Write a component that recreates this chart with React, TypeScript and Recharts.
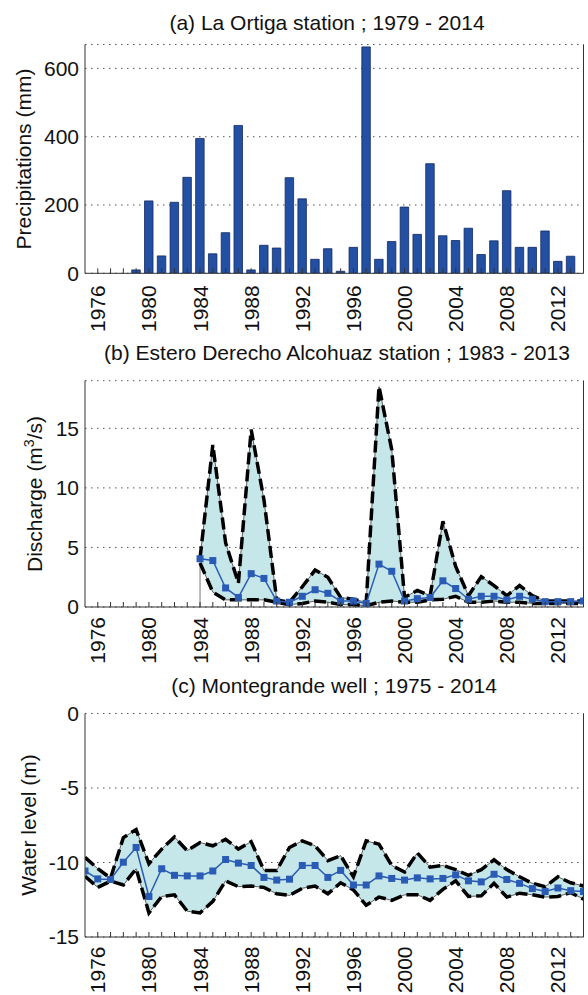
import React from 'react';
import {
  ComposedChart, Bar, Line, Area, XAxis, YAxis, CartesianGrid, ReferenceLine
} from 'recharts';

const FONT = '"Liberation Sans", Arial, Helvetica, sans-serif';

// year ticks shared by all three panels
const yearTicks = [
  1976, 1977, 1978, 1979, 1980, 1981, 1982, 1983, 1984, 1985, 1986, 1987, 1988,
  1989, 1990, 1991, 1992, 1993, 1994, 1995, 1996, 1997, 1998, 1999, 2000, 2001,
  2002, 2003, 2004, 2005, 2006, 2007, 2008, 2009, 2010, 2011, 2012, 2013,
];
const labelYears = [1976, 1980, 1984, 1988, 1992, 1996, 2000, 2004, 2008, 2012];

// (a) La Ortiga precipitation
const rainYears = [
  1979, 1980, 1981, 1982, 1983, 1984, 1985, 1986, 1987, 1988, 1989, 1990,
  1991, 1992, 1993, 1994, 1995, 1996, 1997, 1998, 1999, 2000, 2001, 2002,
  2003, 2004, 2005, 2006, 2007, 2008, 2009, 2010, 2011, 2012, 2013,
];
const rainValues = [
  10, 212, 51, 208, 281, 395, 57, 119, 433, 10, 82, 74,
  280, 218, 41, 72, 6, 76, 663, 41, 93, 194, 114, 321,
  110, 96, 132, 55, 95, 242, 76, 76, 124, 35, 50,
];

// (b) Estero Derecho Alcohuaz discharge
const flowYears = [
  1984, 1985, 1986, 1987, 1988, 1989, 1990, 1991, 1992, 1993, 1994, 1995,
  1996, 1997, 1998, 1999, 2000, 2001, 2002, 2003, 2004, 2005, 2006, 2007,
  2008, 2009, 2010, 2011, 2012, 2013, 2014,
];
const flowMean = [
  4.05, 3.9, 1.6, 0.8, 2.8, 2.4, 0.5, 0.4, 0.9, 1.45, 1.15, 0.5,
  0.5, 0.3, 3.6, 3.0, 0.5, 0.7, 0.8, 2.2, 1.55, 0.65, 0.9, 0.9,
  0.6, 0.9, 0.65, 0.45, 0.45, 0.45, 0.5,
];
const flowMax = [
  4.1, 13.6, 5.4, 2.0, 14.9, 9.0, 0.6, 0.4, 1.7, 3.1, 2.5, 0.8,
  0.65, 0.4, 18.5, 13.2, 0.8, 1.4, 0.95, 7.2, 3.4, 0.95, 2.55, 1.8,
  0.95, 1.8, 0.95, 0.5, 0.5, 0.5, 0.5,
];
const flowMin = [
  3.7, 1.25, 0.6, 0.6, 0.6, 0.6, 0.4, 0.2, 0.3, 0.5, 0.4, 0.2,
  0.2, 0.1, 0.4, 0.5, 0.4, 0.4, 0.6, 0.65, 0.9, 0.4, 0.4, 0.5,
  0.4, 0.4, 0.3, 0.3, 0.3, 0.3, 0.3,
];

// (c) Montegrande well water level
const wellYears = [
  1975, 1976, 1977, 1978, 1979, 1980, 1981, 1982, 1983, 1984,
  1985, 1986, 1987, 1988, 1989, 1990, 1991, 1992, 1993, 1994,
  1995, 1996, 1997, 1998, 1999, 2000, 2001, 2002, 2003, 2004,
  2005, 2006, 2007, 2008, 2009, 2010, 2011, 2012, 2013, 2014,
];
const wellMean = [
  -10.57, -11.1, -11.14, -9.98, -8.99, -12.28, -10.42, -10.86, -10.9, -10.9,
  -10.57, -9.8, -10.04, -10.2, -11.0, -11.18, -11.12, -10.2, -10.2, -11.0,
  -10.53, -11.51, -11.51, -10.9, -11.07, -11.18, -11.03, -11.1, -11.07, -10.83,
  -11.23, -11.3, -10.79, -11.14, -11.4, -11.75, -11.95, -11.71, -11.89, -11.95,
];
const wellMax = [
  -9.65, -10.42, -11.05, -8.33, -7.79, -10.09, -9.1, -8.29, -9.21, -8.66,
  -8.88, -8.44, -9.1, -8.6, -10.53, -10.53, -8.99, -8.55, -8.88, -9.87,
  -9.54, -10.96, -8.55, -8.77, -10.2, -10.64, -9.36, -10.31, -10.2, -10.48,
  -10.86, -10.48, -9.82, -10.48, -10.96, -11.4, -11.62, -10.96, -11.36, -11.58,
];
const wellMin = [
  -10.92, -11.67, -11.25, -11.51, -10.42, -13.38, -12.28, -12.17, -13.27, -13.38,
  -12.61, -11.23, -11.62, -11.58, -11.67, -12.1, -12.21, -11.73, -11.58, -12.1,
  -11.36, -11.84, -12.87, -12.32, -12.54, -12.17, -12.17, -12.54, -11.8, -11.23,
  -12.28, -12.24, -11.4, -12.32, -12.06, -12.17, -12.32, -12.28, -12.02, -12.46,
];

const rainData = rainYears.map((year, i) => ({ year, rain: rainValues[i] }));
const flowData = flowYears.map((year, i) => ({ year, mean: flowMean[i], hi: flowMax[i], lo: flowMin[i] }));
const wellData = wellYears.map((year, i) => ({ year, mean: wellMean[i], hi: wellMax[i], lo: wellMin[i] }));

const W = 588;
const FS = 21;
const X_DOMAIN: [number, number] = [1975, 2014];
const AXIS = '#333';
const BAND_FILL = '#c6e7ea';
const BLUE = '#2b5cb5';

const BottomTick = ({ x, y, payload, gap }: any) => (
  <g>
    <line x1={x} x2={x} y1={y} y2={y - 5} stroke={AXIS} strokeWidth={1} />
    {labelYears.includes(payload.value) && (
      <text
        x={x} y={y} dx={-gap} dy={7.5}
        transform={`rotate(-90 ${x} ${y})`}
        textAnchor="end" fontSize={FS} fontFamily={FONT} fill="#111"
      >
        {payload.value}
      </text>
    )}
  </g>
);

const TopTick = ({ x, y }: any) => (
  <line x1={x} x2={x} y1={y} y2={y + 5} stroke={AXIS} strokeWidth={1} />
);

const Square = ({ cx, cy }: any) =>
  cx == null || cy == null ? <g /> : <rect x={cx - 3.5} y={cy - 3.5} width={7} height={7} fill={BLUE} />;

const yTickStyle = { fontSize: FS, fontFamily: FONT, fill: '#111' };

// shared frame: axes on four sides, dotted horizontal grid
const frame = (yDomain: [number, number], yTicks: number[], gap: number) => [
  <CartesianGrid key="grid" vertical={false} horizontal stroke="#555" strokeDasharray="1.5 4.5" />,
  <XAxis
    key="xb" dataKey="year" type="number" domain={X_DOMAIN} ticks={yearTicks} interval={0}
    allowDataOverflow height={52} tickSize={0} tickMargin={0} tickLine={false}
    axisLine={{ stroke: AXIS }} tick={<BottomTick gap={gap} />}
  />,
  <XAxis
    key="xt" xAxisId="top" orientation="top" type="number" domain={X_DOMAIN} ticks={yearTicks}
    interval={0} allowDataOverflow height={0} tickSize={0} tickMargin={0} tickLine={false}
    axisLine={{ stroke: AXIS }} tick={<TopTick />}
  />,
  <YAxis
    key="yl" type="number" domain={yDomain} ticks={yTicks} interval={0} allowDataOverflow
    width={85} tickSize={0} tickMargin={6} tickLine={false}
    axisLine={{ stroke: AXIS }} tick={yTickStyle}
  />,
  <YAxis
    key="yr" yAxisId="right" orientation="right" type="number" domain={yDomain}
    allowDataOverflow width={1} tick={false} tickLine={false} axisLine={{ stroke: AXIS }}
  />,
];

export default function App() {
  return (
    <div style={{ position: 'absolute', left: 0, top: 0, width: W, height: 995, background: '#fff', fontFamily: FONT, overflow: 'hidden' }}>
      {/* (a) precipitation bars */}
      <div style={{ position: 'absolute', left: 0, top: 0 }}>
        <ComposedChart width={W} height={340} data={rainData} margin={{ top: 44.5, right: 3.5, bottom: 14.7, left: 0 }}>
          {frame([0, 670], [0, 200, 400, 600], 12)}
          <Bar dataKey="rain" fill="#2350a2" stroke="#132a63" strokeWidth={0.8} barSize={8.5} isAnimationActive={false} />
        </ComposedChart>
      </div>

      {/* (b) discharge band */}
      <div style={{ position: 'absolute', left: 0, top: 330 }}>
        <ComposedChart width={W} height={340} data={flowData} margin={{ top: 50.7, right: 3.5, bottom: 11, left: 0 }}>
          {frame([0, 19], [0, 5, 10, 15], 10)}
          <Area
            dataKey={(d: any) => [d.lo, d.hi]} type="linear" fill={BAND_FILL} fillOpacity={1}
            stroke="#222" strokeWidth={0.7} isAnimationActive={false} dot={false} activeDot={false}
          />
          <ReferenceLine
            segment={[{ x: flowYears[0], y: 0 }, { x: flowYears[0], y: flowMean[0] }]}
            stroke="#777" strokeWidth={1}
          />
          <Line dataKey="hi" type="linear" stroke="#000" strokeWidth={3.5} strokeDasharray="12 5" dot={false} isAnimationActive={false} />
          <Line dataKey="lo" type="linear" stroke="#000" strokeWidth={3.5} strokeDasharray="12 5" dot={false} isAnimationActive={false} />
          <Line dataKey="mean" type="linear" stroke={BLUE} strokeWidth={1.5} dot={<Square />} isAnimationActive={false} />
        </ComposedChart>
      </div>

      {/* (c) water level band */}
      <div style={{ position: 'absolute', left: 0, top: 660 }}>
        <ComposedChart width={W} height={335} data={wellData} margin={{ top: 53.5, right: 3.5, bottom: 6, left: 0 }}>
          {frame([-15, 0], [-15, -10, -5, 0], 9.5)}
          <Area
            dataKey={(d: any) => [d.lo, d.hi]} type="linear" fill={BAND_FILL} fillOpacity={1}
            stroke="#222" strokeWidth={0.7} isAnimationActive={false} dot={false} activeDot={false}
          />
          <Line dataKey="hi" type="linear" stroke="#000" strokeWidth={3.5} strokeDasharray="12 5" dot={false} isAnimationActive={false} />
          <Line dataKey="lo" type="linear" stroke="#000" strokeWidth={3.5} strokeDasharray="12 5" dot={false} isAnimationActive={false} />
          <Line dataKey="mean" type="linear" stroke={BLUE} strokeWidth={1.5} dot={<Square />} isAnimationActive={false} />
        </ComposedChart>
      </div>

      {/* titles and axis labels */}
      <svg width={W} height={995} style={{ position: 'absolute', left: 0, top: 0, pointerEvents: 'none' }}>
        <g fontFamily={FONT} fontSize={FS} fill="#111" textAnchor="middle">
          <text x={327} y={30}>(a) La Ortiga station ; 1979 - 2014</text>
          <text x={337} y={359.5}>(b) Estero Derecho Alcohuaz station ; 1983 - 2013</text>
          <text x={334} y={692.5}>(c) Montegrande well ; 1975 - 2014</text>
          <text x={31} y={159} transform="rotate(-90 31 159)">Precipitations (mm)</text>
          <text x={42} y={494} transform="rotate(-90 42 494)">
            Discharge (m<tspan dy={-8} fontSize={14}>3</tspan><tspan dy={8}>/s)</tspan>
          </text>
          <text x={36} y={825} transform="rotate(-90 36 825)">Water level (m)</text>
        </g>
      </svg>
    </div>
  );
}
